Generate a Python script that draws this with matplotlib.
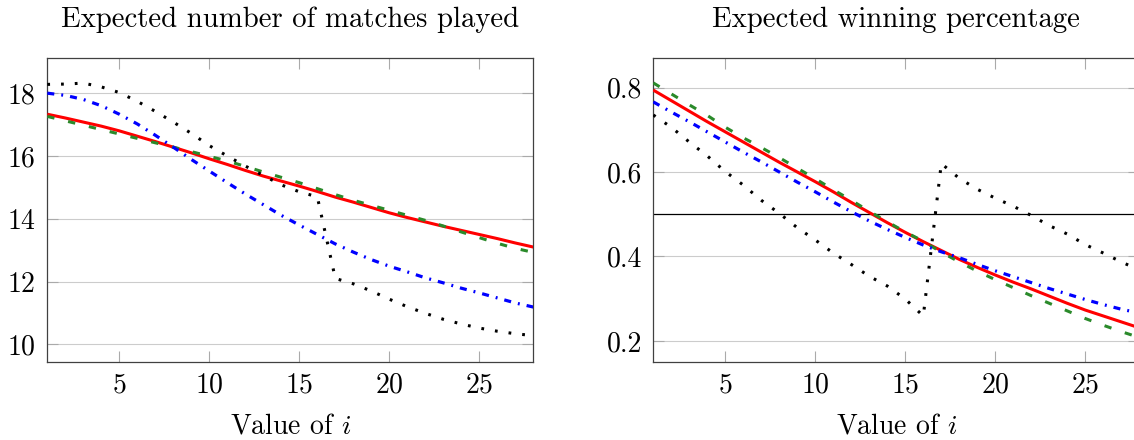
import matplotlib
matplotlib.use("Agg")
import matplotlib.pyplot as plt

plt.rcParams['font.family'] = ['cmr10', 'DejaVu Serif']
plt.rcParams['mathtext.fontset'] = 'cm'
plt.rcParams['axes.formatter.use_mathtext'] = True
plt.rcParams['font.size'] = 20

i_vals = list(range(1, 29))

# Expected number of matches played
matches_red = [17.33, 17.21, 17.08, 16.95, 16.80, 16.63, 16.46, 16.28, 16.10, 15.91,
               15.73, 15.54, 15.36, 15.20, 15.04, 14.87, 14.69, 14.53, 14.36, 14.19,
               14.04, 13.90, 13.76, 13.63, 13.50, 13.37, 13.23, 13.10]
matches_green = [17.26, 17.12, 16.98, 16.84, 16.70, 16.56, 16.42, 16.28, 16.14, 15.99,
                 15.84, 15.67, 15.49, 15.32, 15.15, 14.96, 14.77, 14.59, 14.43, 14.27,
                 14.11, 13.95, 13.77, 13.58, 13.40, 13.22, 13.06, 12.93]
matches_blue = [18.00, 17.93, 17.80, 17.60, 17.33, 17.02, 16.66, 16.28, 15.89, 15.52,
                15.15, 14.79, 14.45, 14.11, 13.80, 13.50, 13.20, 12.94, 12.70, 12.49,
                12.31, 12.12, 11.96, 11.79, 11.64, 11.48, 11.32, 11.19]
matches_black = [18.28, 18.29, 18.32, 18.20, 18.02, 17.74, 17.42, 17.08, 16.72, 16.33,
                 16.00, 15.68, 15.38, 15.08, 14.86, 14.70, 12.10, 11.93, 11.70, 11.44,
                 11.20, 10.99, 10.80, 10.65, 10.52, 10.42, 10.34, 10.28]

# Expected winning percentage
win_red = [0.794, 0.769, 0.744, 0.719, 0.695, 0.671, 0.647, 0.623, 0.600, 0.577,
           0.553, 0.528, 0.504, 0.480, 0.457, 0.435, 0.414, 0.393, 0.374, 0.356,
           0.339, 0.323, 0.306, 0.289, 0.273, 0.259, 0.245, 0.231]
win_green = [0.811, 0.785, 0.759, 0.734, 0.706, 0.681, 0.658, 0.634, 0.609, 0.584,
             0.558, 0.533, 0.507, 0.482, 0.458, 0.436, 0.410, 0.387, 0.365, 0.345,
             0.326, 0.307, 0.289, 0.271, 0.253, 0.237, 0.222, 0.208]
win_blue = [0.766, 0.742, 0.719, 0.695, 0.671, 0.647, 0.624, 0.600, 0.576, 0.553,
            0.529, 0.506, 0.484, 0.464, 0.445, 0.427, 0.411, 0.397, 0.381, 0.366,
            0.352, 0.338, 0.324, 0.311, 0.298, 0.286, 0.275, 0.266]
win_black = [0.735, 0.706, 0.671, 0.638, 0.601, 0.569, 0.533, 0.502, 0.468, 0.439,
             0.408, 0.381, 0.353, 0.330, 0.299, 0.259, 0.620, 0.585, 0.559, 0.538,
             0.519, 0.497, 0.473, 0.453, 0.428, 0.408, 0.387, 0.368]

titles = ['Expected number of matches played', 'Expected winning percentage']
xticks = [5, 10, 15, 20, 25]
yticks_left = [10, 12, 14, 16, 18]
yticks_right = [0.2, 0.4, 0.6, 0.8]

W, H = 1134, 440
fig = plt.figure(figsize=(W / 100, H / 100), dpi=100)
ax1 = fig.add_axes([47.3 / W, 78 / H, 486 / W, 304 / H])
ax2 = fig.add_axes([653.3 / W, 78 / H, 486 / W, 304 / H])

green = '#2a8a2a'


def draw(ax, red, grn, blue, black):
    ax.plot(i_vals, red, color='red', lw=2.2, solid_capstyle='butt', zorder=3)
    ax.plot(i_vals, grn, color=green, lw=2.2, dashes=(2.4, 4.6), zorder=3)
    ax.plot(i_vals, blue, color='blue', lw=2.3, dashes=(2.2, 2.2, 0.6, 2.2), zorder=3)
    ax.plot(i_vals, black, color='black', lw=2.2, dashes=(0.9, 3.6), zorder=3)


draw(ax1, matches_red, matches_green, matches_blue, matches_black)
draw(ax2, win_red, win_green, win_blue, win_black)
ax2.axhline(0.5, color='black', lw=0.9, zorder=2)

ax1.set_ylim(9.44, 19.12)
ax1.set_yticks(yticks_left)
ax2.set_ylim(0.150, 0.870)
ax2.set_yticks(yticks_right)
ax2.set_yticklabels(['0.2', '0.4', '0.6', '0.8'])

for ax, title in zip([ax1, ax2], titles):
    ax.set_xlim(1, 28)
    ax.set_xticks(xticks)
    ax.set_title(title, pad=22.5, fontsize=20.7)
    ax.set_xlabel('Value of $i$', labelpad=11)
    ax.grid(axis='y', color='#cccccc', lw=0.8, zorder=1)
    ax.tick_params(axis='both', direction='in', length=8, width=0.8,
                   color='#aaaaaa', top=True, right=True)
    ax.tick_params(axis='x', pad=7)
    ax.tick_params(axis='y', pad=8.3)
    for sp in ax.spines.values():
        sp.set_color('#404040')
        sp.set_linewidth(0.9)

fig.savefig('out.png', dpi=100)
